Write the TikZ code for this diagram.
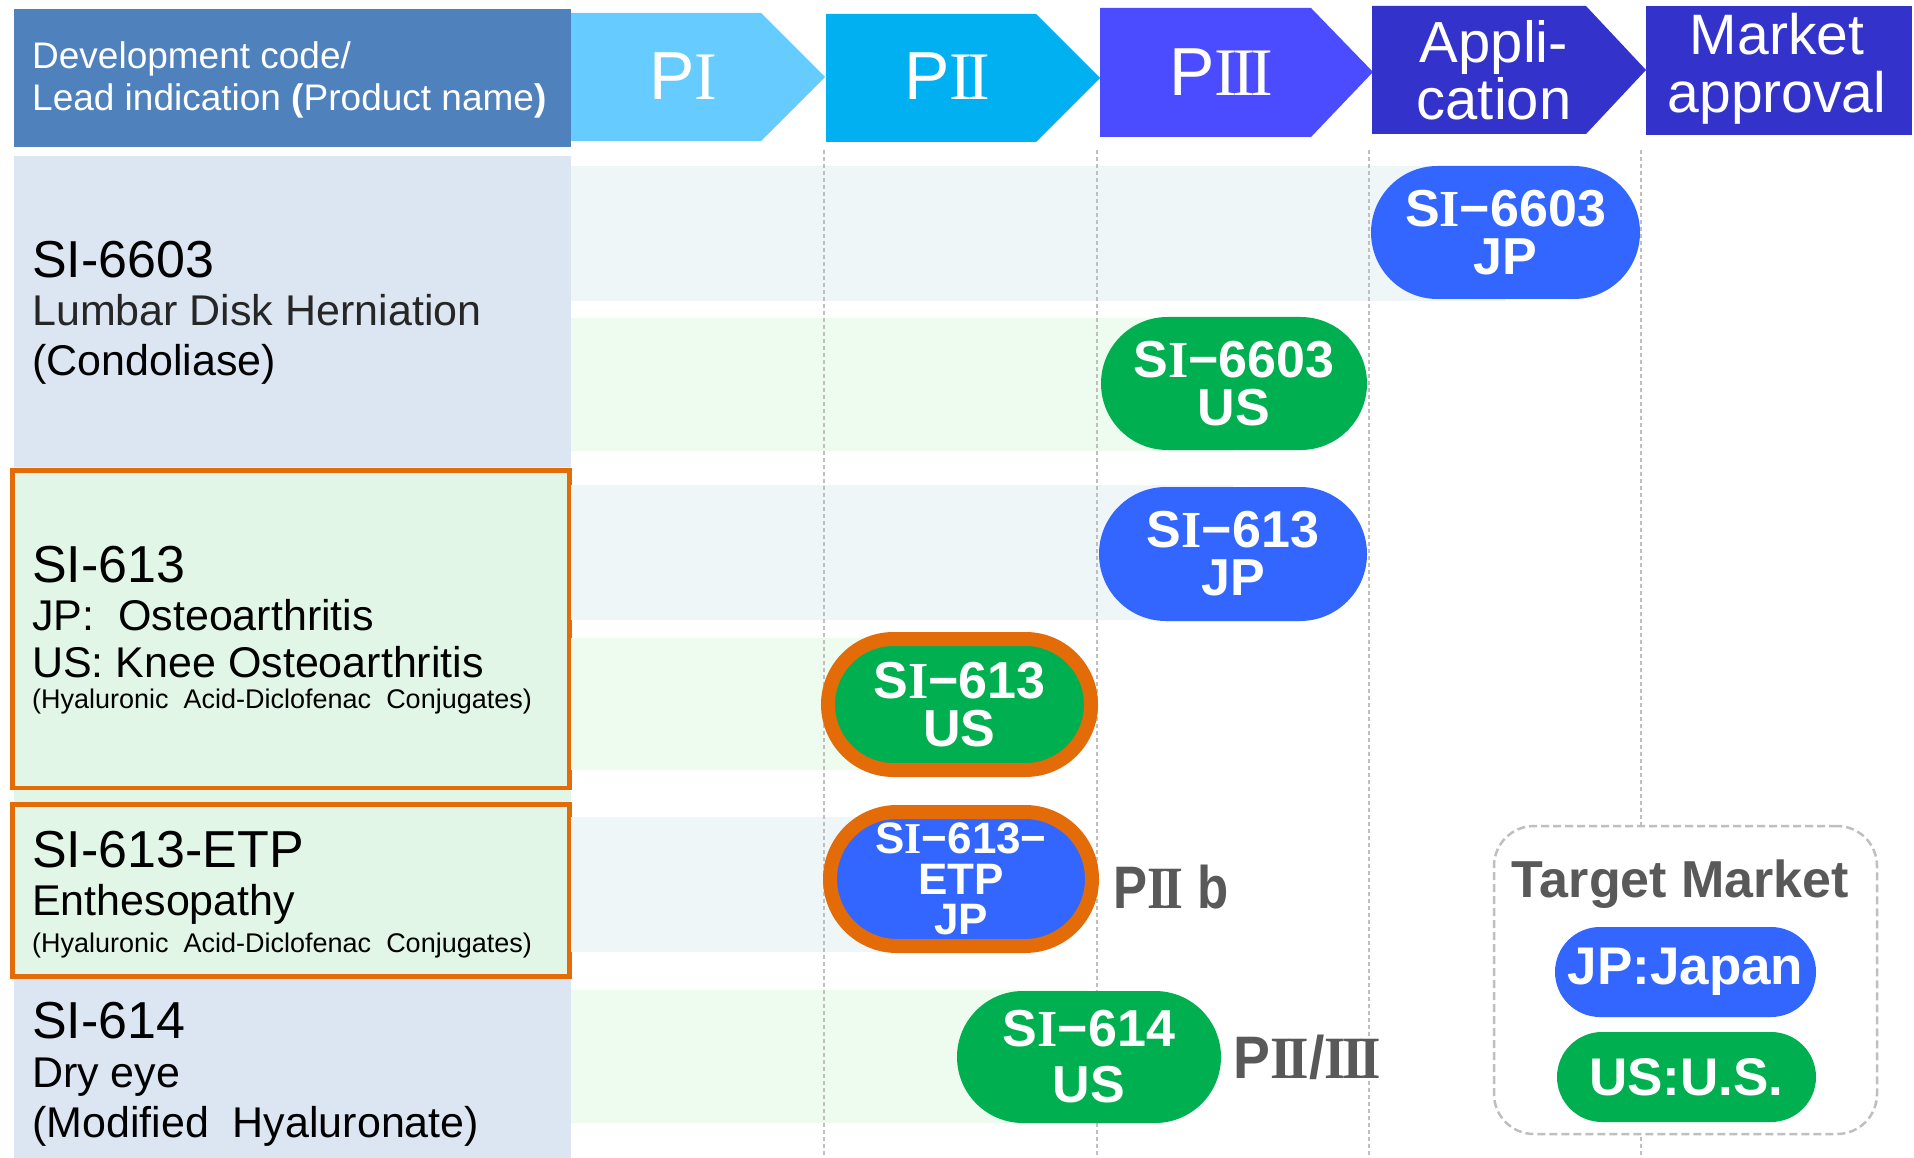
\documentclass[tikz,border=0pt]{standalone}
\usepackage{fontspec}
\setmainfont{Liberation Sans}
\newfontfamily\rnfont{Liberation Serif}
\usepackage{graphicx}
\usetikzlibrary{shapes.misc}
\definecolor{hdr}{HTML}{4F81BD}
\definecolor{phA}{HTML}{66CCFF}
\definecolor{phB}{HTML}{00B0F0}
\definecolor{phC}{HTML}{4B4BFF}
\definecolor{phD}{HTML}{3333CC}
\definecolor{leftblue}{HTML}{DCE6F2}
\definecolor{leftgreen}{HTML}{E2F6E8}
\definecolor{stripeblue}{HTML}{EEF6F8}
\definecolor{stripegreen}{HTML}{EDFCEF}
\definecolor{pblue}{HTML}{3366FF}
\definecolor{pgreen}{HTML}{00AF50}
\definecolor{orng}{HTML}{E36C09}
\definecolor{tgray}{HTML}{595959}
\definecolor{dgray}{HTML}{BFBFBF}
\definecolor{sub}{HTML}{262626}
\newcommand\rI{{\rnfont I}}
\newcommand\rII{{\rnfont I\kern-.07em I}}
\newcommand\rIII{{\rnfont I\kern-.07em I\kern-.07em I}}
\newcommand\fs[2]{\fontsize{#1pt}{#2pt}\selectfont}
\begin{document}
\begin{tikzpicture}[x=1pt,y=-1pt,
  pill/.style={rounded rectangle, inner sep=0pt, text=white, align=center},
  ltxt/.style={anchor=base west, inner sep=0pt},
  vline/.style={draw=dgray, line width=2.5pt, dash pattern=on 4pt off 3pt},
  phase/.style={anchor=base, inner sep=0pt, text=white}]
\useasboundingbox (0,0) rectangle (1914,1158);
\fill[white] (0,0) rectangle (1914,1158);

% header
\fill[hdr] (13.5,9) rectangle (571,147);
\fill[phA] (571,13) -- (761,13) -- (825,77) -- (761,141) -- (571,141) -- cycle;
\fill[phB] (826,14) -- (1036,14) -- (1100,78) -- (1036,142) -- (826,142) -- cycle;
\fill[phC] (1100,8) -- (1311,8) -- (1373,72) -- (1311,137) -- (1100,137) -- cycle;
\fill[phD] (1372,6) -- (1586,6) -- (1646,70) -- (1586,134) -- (1372,134) -- cycle;
\fill[phD] (1646,6) rectangle (1912,135);

% left column
\fill[leftblue] (13.5,156) rectangle (571,467);
\fill[leftgreen] (13.5,467) rectangle (571,978);
\fill[leftblue] (13.5,978) rectangle (571,1158);
\draw[orng, line width=4.5pt] (12.5,470.5) rectangle (569.5,788);
\draw[orng, line width=4.5pt] (12.5,804.5) rectangle (569.5,976.5);

% stripes
\fill[stripeblue] (571,166) rectangle (1505,301);
\fill[stripegreen] (571,318) rectangle (1234,451);
\fill[stripeblue] (571,485) rectangle (1233,620);
\fill[stripegreen] (571,638) rectangle (959,770);
\fill[stripeblue] (571,817) rectangle (960,952);
\fill[stripegreen] (571,990) rectangle (1089,1123);

% vertical dashed lines
\draw[vline] (824,150) -- (824,1158);
\draw[vline] (1097,150) -- (1097,1158);
\draw[vline] (1369,150) -- (1369,1158);
\draw[vline] (1641,150) -- (1641,1158);

% header texts
\node[ltxt, text=white, font=\fs{37}{37}] (h1) at (32,69) {Development code/};
\node[ltxt, text=white, font=\fs{37}{37}] (h2) at (32,111) {Lead indication \textbf{(}Product name\textbf{)}};
\node[phase, font=\fs{68}{68}] (tA) at (683,100) {P\rI};
\node[phase, font=\fs{68}{68}] (tB) at (947,100) {P\rII};
\node[phase, font=\fs{68}{68}] (tC) at (1221,96) {P\rIII};
\node[phase, font=\fs{58}{58}] (tD1) at (1494,63) {Appli-};
\node[phase, font=\fs{58}{58}] (tD2) at (1494,120) {cation};
\node[phase, font=\fs{57}{57}] (tE1) at (1777,55) {Market};
\node[phase, font=\fs{57}{57}] (tE2) at (1777,113) {approval};

% left texts
\node[ltxt, font=\fs{52}{52}] (a1) at (32,278) {SI-6603};
\node[ltxt, font=\fs{43}{43}, text=sub] (a2) at (32,325) {Lumbar Disk Herniation};
\node[ltxt, font=\fs{43}{43}] (a3) at (32,375) {(Condoliase)};

\node[ltxt, font=\fs{52}{52}] (b1) at (32,582) {SI-613};
\node[ltxt, font=\fs{43}{43}] (b2) at (32,630) {JP:\ \ Osteoarthritis};
\node[ltxt, font=\fs{43}{43}] (b3) at (32,677) {US: Knee Osteoarthritis};
\node[ltxt, font=\fs{27}{27}] (b4) at (32,708) {(Hyaluronic\ \ Acid-Diclofenac\ \ Conjugates)};

\node[ltxt, font=\fs{52}{52}] (c1) at (32,867) {SI-613-ETP};
\node[ltxt, font=\fs{43}{43}] (c2) at (32,915) {Enthesopathy};
\node[ltxt, font=\fs{27}{27}] (c3) at (32,952) {(Hyaluronic\ \ Acid-Diclofenac\ \ Conjugates)};

\node[ltxt, font=\fs{52}{52}] (d1) at (32,1038) {SI-614};
\node[ltxt, font=\fs{43}{43}] (d2) at (32,1087) {Dry eye};
\node[ltxt, font=\fs{43}{43}] (d3) at (32,1137) {(Modified\ \ Hyaluronate)};

% legend box
\node[draw=dgray, dash pattern=on 8pt off 4pt, line width=2.5pt, fill=white,
      rounded corners=40pt, minimum width=383pt, minimum height=308pt, inner sep=0pt] (leg) at (1685.5,980) {};
\node[anchor=base, inner sep=0pt, text=tgray, font=\fs{52}{52}\bfseries] (tm) at (1680.5,897) {Target Market};
\node[pill, fill=pblue, minimum width=261pt, minimum height=90pt, font=\fs{53}{53}\bfseries] (ljp) at (1685.5,972) {JP:Japan};
\node[pill, fill=pgreen, minimum width=259pt, minimum height=90pt, font=\fs{53}{53}\bfseries] (lus) at (1686.5,1077) {US:U.S.};

% pills
\node[pill, fill=pblue, minimum width=269pt, minimum height=133pt, font=\fs{52}{48}\bfseries] (p1) at (1505.5,232.5) {S\rI−6603\\JP};
\node[pill, fill=pgreen, minimum width=266pt, minimum height=133pt, font=\fs{52}{48}\bfseries] (p2) at (1234,383.5) {S\rI−6603\\US};
\node[pill, fill=pblue, minimum width=268pt, minimum height=134pt, font=\fs{52}{48}\bfseries] (p3) at (1233,554) {S\rI−613\\JP};
\node[pill, fill=pgreen, draw=orng, line width=14pt, minimum width=263pt, minimum height=131pt, font=\fs{52}{48}\bfseries] (p4) at (959.5,704.5) {S\rI−613\\US};
\node[pill, fill=pblue, draw=orng, line width=14pt, minimum width=262pt, minimum height=134pt, font=\fs{44}{40.5}\bfseries] (p5) at (961,879) {S\rI−613−\\ETP\\JP};
\node[pill, fill=pgreen, minimum width=264pt, minimum height=132pt, font=\fs{52}{56}\bfseries] (p6) at (1089,1057) {S\rI−614\\US};

% phase labels
\node[anchor=base west, inner sep=0pt, text=tgray, font=\fs{60}{60}\bfseries] (l5) at (1113,908) {\scalebox{0.85}[1]{P\rII\ b}};
\node[anchor=base west, inner sep=0pt, text=tgray, font=\fs{60}{60}\bfseries] (l6) at (1233,1078) {\scalebox{0.92}[1]{P\rII/\rIII}};
\end{tikzpicture}
\end{document}
